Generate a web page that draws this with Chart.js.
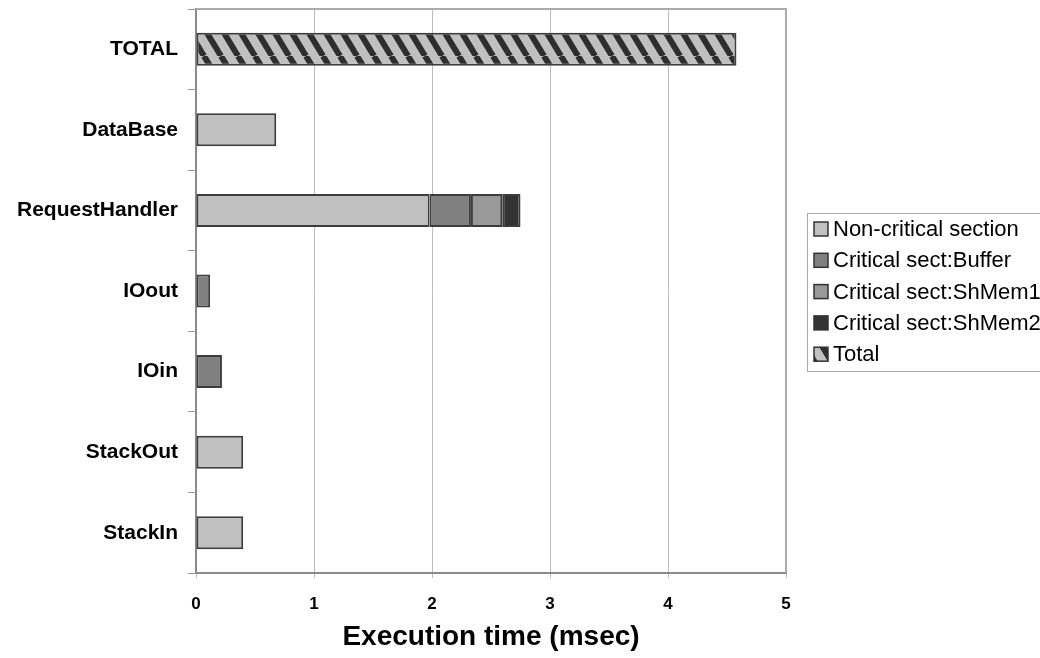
<!DOCTYPE html>
<html>
<head>
<meta charset="utf-8">
<title>Execution time</title>
<script src="https://cdn.jsdelivr.net/npm/chart.js@4.4.1/dist/chart.umd.min.js"></script>
<style>
  html, body { margin: 0; padding: 0; background: #fff; }
</style>
</head>
<body>
<canvas id="timeChart" width="1040" height="658"></canvas>
<script>
// data, categories listed top to bottom
var modules = ['TOTAL', 'DataBase', 'RequestHandler', 'IOout', 'IOin', 'StackOut', 'StackIn'];
var nonCritical = [null, 0.68, 1.98, null, null, 0.40, 0.40];
var csBuffer = [null, null, 0.35, 0.12, 0.22, null, null];
var csShMem1 = [null, null, 0.265, null, null, null, null];
var csShMem2 = [null, null, 0.155, null, null, null, null];
var totalTime = [4.58, null, null, null, null, null, null];
var xTicks = [0, 1, 2, 3, 4, 5];
var seriesNames = ['Non-critical section', 'Critical sect:Buffer', 'Critical sect:ShMem1', 'Critical sect:ShMem2', 'Total'];

var fontName = '"Liberation Sans", Arial, Helvetica, sans-serif';

// hatch pattern for the Total bar
function makeHatch() {
  var c = document.createElement('canvas');
  c.width = 17;
  c.height = 28;
  var p = c.getContext('2d');
  p.fillStyle = '#c0c0c0';
  p.fillRect(0, 0, 17, 28);
  p.strokeStyle = '#2e2e2e';
  p.lineWidth = 6;
  [-17, 0, 17].forEach(function(o) {
    p.beginPath();
    p.moveTo(o, 0);
    p.lineTo(o + 17, 28);
    p.stroke();
  });
  return p.createPattern(c, 'repeat');
}

// draws the top and right edge of the plot area
var plotFrame = {
  id: 'plotFrame',
  afterDraw: function(chart) {
    var a = chart.chartArea;
    var ctx = chart.ctx;
    ctx.save();
    ctx.strokeStyle = '#ababab';
    ctx.lineWidth = 2;
    ctx.beginPath();
    ctx.moveTo(a.left, a.top);
    ctx.lineTo(a.right, a.top);
    ctx.lineTo(a.right, a.bottom);
    ctx.stroke();
    ctx.restore();
  }
};

// legend in a box to the right, cut by the page edge
var boxLegend = {
  id: 'boxLegend',
  afterDraw: function(chart) {
    var ctx = chart.ctx;
    var x0 = 807, y0 = 213;
    ctx.save();
    ctx.strokeStyle = '#a8a8a8';
    ctx.lineWidth = 1;
    ctx.strokeRect(x0 + 0.5, y0 + 0.5, 260, 158);
    ctx.font = '22px ' + fontName;
    ctx.textBaseline = 'middle';
    chart.data.datasets.forEach(function(ds, i) {
      var cy = y0 + 16 + i * 31.3;
      ctx.fillStyle = ds.backgroundColor;
      ctx.fillRect(x0 + 7, cy - 7, 14, 14);
      ctx.strokeStyle = '#333';
      ctx.lineWidth = 1.5;
      ctx.strokeRect(x0 + 7, cy - 7, 14, 14);
      ctx.fillStyle = '#000';
      ctx.fillText(ds.label, x0 + 26, cy + 1);
    });
    ctx.restore();
  }
};

window.onload = function() {
  var ctx = document.getElementById('timeChart').getContext('2d');
  var hatch = makeHatch();
  var colors = ['#c0c0c0', '#808080', '#999999', '#333333', hatch];
  var values = [nonCritical, csBuffer, csShMem1, csShMem2, totalTime];

  var datasets = values.map(function(v, i) {
    return {
      label: seriesNames[i],
      data: v,
      backgroundColor: colors[i],
      borderColor: 'rgba(40, 40, 40, 0.9)',
      borderWidth: 2,
      borderSkipped: false,
      barPercentage: 0.41,
      categoryPercentage: 1.0
    };
  });

  new Chart(ctx, {
    type: 'bar',
    data: {
      labels: modules,
      datasets: datasets
    },
    options: {
      indexAxis: 'y',
      responsive: false,
      animation: false,
      layout: {
        padding: { left: 0, right: 254, top: 9, bottom: 0 }
      },
      plugins: {
        legend: { display: false },
        tooltip: { enabled: false }
      },
      scales: {
        x: {
          stacked: true,
          min: xTicks[0],
          max: xTicks[xTicks.length - 1],
          afterFit: function(scale) { scale.height = 85; },
          afterBuildTicks: function(scale) {
            scale.ticks = xTicks.map(function(t) { return { value: t }; });
          },
          ticks: {
            color: '#000',
            padding: 16,
            font: { family: fontName, size: 17, weight: 'bold' }
          },
          grid: {
            color: '#bdbdbd',
            lineWidth: 1,
            tickLength: 5
          },
          border: { color: '#8a8a8a', width: 2 },
          title: {
            display: true,
            text: 'Execution time (msec)',
            color: '#000',
            padding: { top: 0, bottom: 4 },
            font: { family: fontName, size: 28, weight: 'bold' }
          }
        },
        y: {
          stacked: true,
          afterFit: function(scale) {
            scale.width = 196;
            // labels must not push the plot top down
            scale.paddingTop = 0;
            scale.paddingBottom = 0;
          },
          ticks: {
            color: '#000',
            padding: 10,
            font: { family: fontName, size: 21, weight: 'bold' }
          },
          grid: {
            offset: true,
            drawOnChartArea: false,
            color: '#9a9a9a',
            tickLength: 8
          },
          border: { color: '#8a8a8a', width: 2 }
        }
      }
    },
    plugins: [plotFrame, boxLegend]
  });
};
</script>
</body>
</html>
